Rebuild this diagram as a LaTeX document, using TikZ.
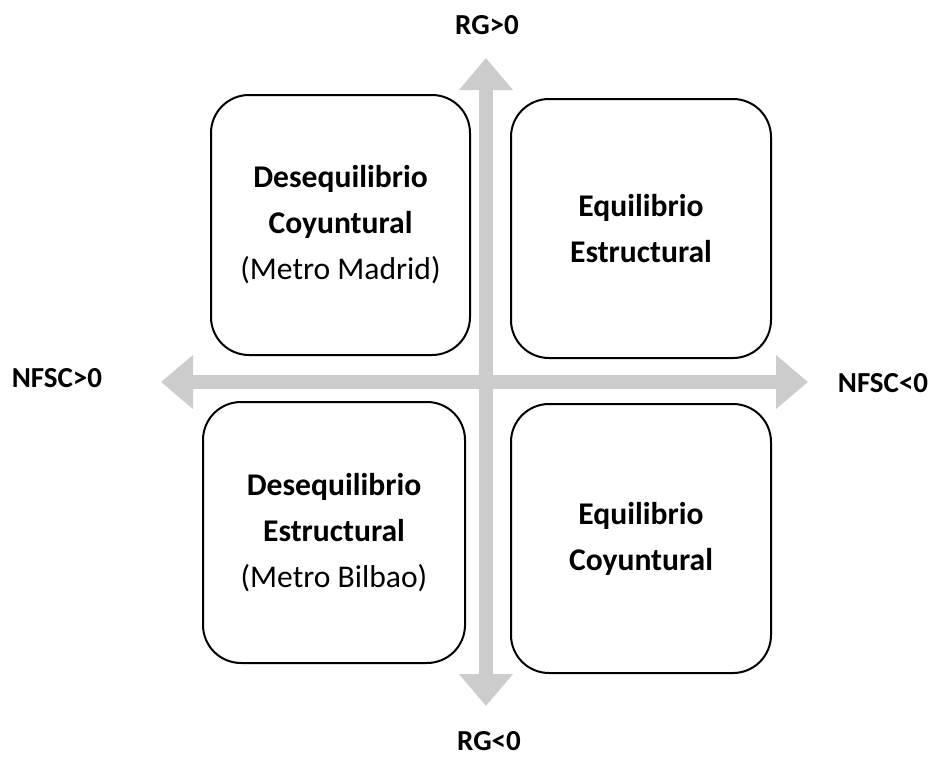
\documentclass[tikz,border=0pt]{standalone}
\usepackage{fontspec}
\setmainfont{Carlito}
\usetikzlibrary{arrows.meta}
\definecolor{axisgray}{RGB}{204,204,204}
\tikzset{
  quad/.style={draw=black, line width=2pt, fill=white, rounded corners=38pt,
    align=center, inner sep=0pt, font=\fontsize{31.6}{46}\selectfont},
  axislabel/.style={font=\fontsize{29}{32}\selectfont\bfseries, inner sep=0pt},
  axisarrow/.style={draw=axisgray, line width=14pt,
    {Triangle[width=52pt,length=32pt]}-{Triangle[width=52pt,length=32pt]}}
}
\begin{document}
\begin{tikzpicture}[x=1pt,y=-1pt]
\useasboundingbox (0,0) rectangle (934,758);
% axes
\coordinate (top) at (486,58);
\coordinate (bottom) at (486,706);
\coordinate (left) at (161,382);
\coordinate (right) at (808,382);
\draw[axisarrow] (bottom) -- (top);
\draw[axisarrow] (left) -- (right);
% quadrants
\node[quad, minimum width=259pt, minimum height=260pt] (tl) at (340.5,225)
  {\textbf{Desequilibrio}\\ \textbf{Coyuntural}\\ (Metro Madrid)};
\node[quad, minimum width=260pt, minimum height=259pt] (tr) at (641,228.5)
  {\textbf{Equilibrio}\\ \textbf{Estructural}};
\node[quad, minimum width=262pt, minimum height=261pt] (bl) at (334,532.5)
  {\textbf{Desequilibrio}\\ \textbf{Estructural}\\ (Metro Bilbao)};
\node[quad, minimum width=260pt, minimum height=269pt] (br) at (641,538.5)
  {\textbf{Equilibrio}\\ \textbf{Coyuntural}};
% labels
\node[axislabel] (rgpos) at (487,25) {RG>0};
\node[axislabel] (rgneg) at (489,741) {RG<0};
\node[axislabel] (nfscpos) at (57,378) {NFSC>0};
\node[axislabel] (nfscneg) at (883,383) {NFSC<0};
\end{tikzpicture}
\end{document}
